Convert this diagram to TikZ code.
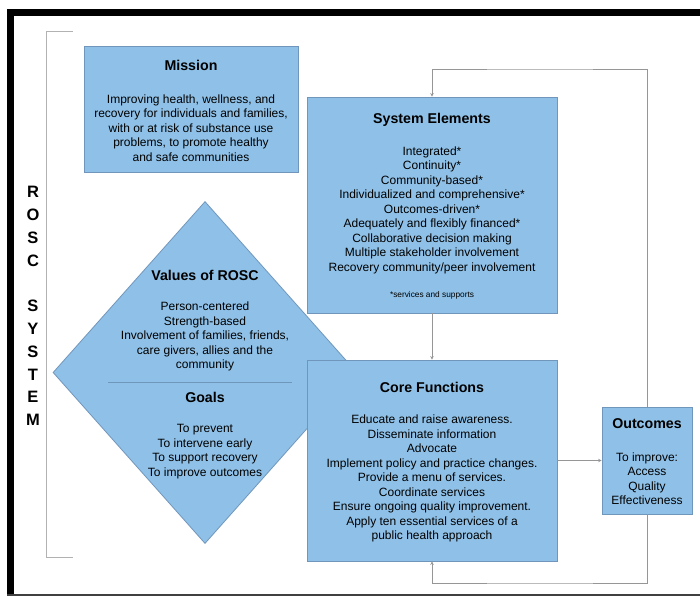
\documentclass[tikz,border=0pt]{standalone}
\usepackage{fontspec}
\setmainfont{Liberation Sans}
\usepackage{tikz}
\usetikzlibrary{arrows.meta, positioning, shapes.geometric}

\definecolor{boxblue}{RGB}{143,193,232}
\definecolor{boxedge}{RGB}{112,150,188}
\definecolor{linkgray}{RGB}{150,150,150}

\tikzset{
  box/.style={rectangle, draw=boxedge, fill=boxblue, line width=0.8pt, inner sep=0pt},
  title/.style={font=\fontsize{14.2}{16}\selectfont\bfseries, align=center, inner sep=0pt},
  body/.style={font=\fontsize{12}{14.5}\selectfont, align=center, inner sep=0pt},
  link/.style={draw=linkgray, line width=0.9pt, -{Stealth[length=3.5pt, width=3.5pt]}}
}

\begin{document}
\begin{tikzpicture}[x=1pt, y=-1pt]
  \useasboundingbox (0,0) rectangle (700,596);

  % frame
  \fill[black] (7,9.5) rectangle (700,16);
  \fill[black] (7,9.5) rectangle (14,596);
  \draw[black!75, line width=1.5pt] (7,595) -- (700,595);

  % bracket and side label
  \draw[black!30, line width=0.9pt] (73,31) -- (46,31) -- (46,557) -- (73,557);
  \node[font=\fontsize{16.5}{22.8}\selectfont\bfseries, align=center, inner sep=0pt] (side) at (33,306)
    {R\\O\\S\\C\\\mbox{}\\S\\Y\\S\\T\\E\\M};

  % values and goals
  \node[diamond, draw=boxedge, fill=boxblue, line width=0.8pt, inner sep=0pt,
        minimum width=304pt, minimum height=342pt] (values) at (205,372.5) {};
  \draw[boxedge, line width=1pt] (108,382) -- (292,382);
  \node[title] (values-title) at (205,275) {Values of ROSC};
  \node[body] (values-body) at (205,336.5) {Person-centered\\Strength-based\\Involvement of families, friends,\\care givers, allies and the\\community};
  \node[title] (goals-title) at (205,397) {Goals};
  \node[body] (goals-body) at (205,451.5) {To prevent\\To intervene early\\To support recovery\\To improve outcomes};

  % mission
  \node[box, minimum width=214pt, minimum height=126pt] (mission) at (191,109) {};
  \node[title] (mission-title) at (191,65) {Mission};
  \node[body] (mission-body) at (191,128) {Improving health, wellness, and\\recovery for individuals and families,\\with or at risk of substance use\\problems, to promote healthy\\and safe communities};

  % system elements
  \node[box, minimum width=250pt, minimum height=216pt] (sysel) at (432,205) {};
  \node[title] (sysel-title) at (432,120) {System Elements};
  \node[body] (sysel-body) at (432,210) {Integrated*\\Continuity*\\Community-based*\\Individualized and comprehensive*\\Outcomes-driven*\\Adequately and flexibly financed*\\Collaborative decision making\\Multiple stakeholder involvement\\Recovery community/peer involvement};
  \node[body, font=\fontsize{8.3}{9}\selectfont] (sysel-note) at (432,295) {*services and supports};

  % core functions
  \node[box, minimum width=250pt, minimum height=201pt] (core) at (432,460.5) {};
  \node[title] (core-title) at (432,387) {Core Functions};
  \node[body] (core-body) at (432,478.5) {Educate and raise awareness.\\Disseminate information\\Advocate\\Implement policy and practice changes.\\Provide a menu of services.\\Coordinate services\\Ensure ongoing quality improvement.\\Apply ten essential services of a\\public health approach};

  % outcomes
  \node[box, minimum width=90pt, minimum height=107pt] (outcomes) at (647,460.5) {};
  \node[title] (outcomes-title) at (647,424) {Outcomes};
  \node[body] (outcomes-body) at (647,478.5) {To improve:\\Access\\Quality\\Effectiveness};

  % connectors
  \coordinate (loop-top) at (540,69);
  \coordinate (loop-bottom) at (540,583);
  \draw[link] (outcomes.north) |- (loop-top) -| (sysel.north);
  \draw[link] (sysel.south) -- (core.north);
  \draw[link] (core.east) -- (outcomes.west);
  \draw[link] (outcomes.south) |- (loop-bottom) -| (core.south);
\end{tikzpicture}
\end{document}
